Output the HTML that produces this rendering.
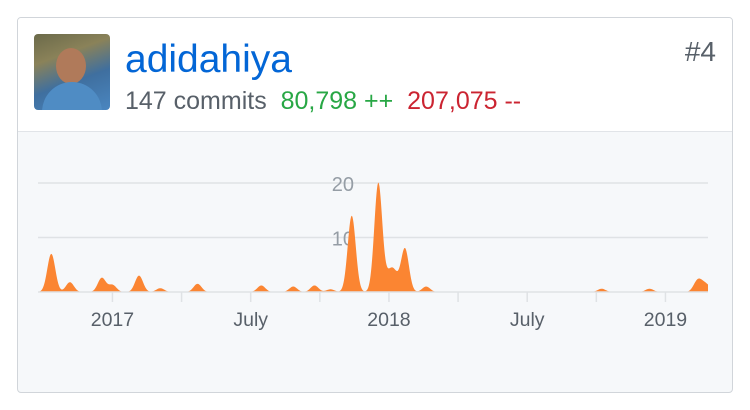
<!DOCTYPE html>
<html><head><meta charset="utf-8"><style>
body{margin:0;background:#fff;width:750px;height:410px;overflow:hidden;font-family:"Liberation Sans",Arial,sans-serif}
#card{position:absolute;left:17px;top:17px;width:714px;height:374px;border:1px solid #d1d5da;border-radius:4px;overflow:hidden;background:#f6f8fa}
#head{position:absolute;left:0;top:0;width:714px;height:113px;background:#fff;border-bottom:1px solid #e1e4e8}
#avatar{position:absolute;left:16px;top:16px;width:76px;height:76px;border-radius:4px;background:linear-gradient(160deg,#6b6a4a 0%,#8a8259 30%,#3f6f9f 60%,#4a86c0 100%);overflow:hidden}
#name{position:absolute;left:107px;top:20px;font-size:39px;color:#0366d6}
#stats{position:absolute;left:107px;top:69px;font-size:25px;color:#586069;white-space:nowrap}
#rank{position:absolute;right:16px;top:18px;font-size:28px;color:#586069}
svg{position:absolute;left:0;top:0}
</style></head><body>
<div id="card">
 <div id="head">
  <div id="avatar">
   <div style="position:absolute;left:22px;top:14px;width:30px;height:36px;border-radius:50%;background:#b07a5a"></div>
   <div style="position:absolute;left:8px;top:48px;width:60px;height:40px;border-radius:30px 30px 0 0;background:#4f8cc4"></div>
  </div>
  <div id="name">adidahiya</div>
  <div id="stats"><span>147 commits</span>&nbsp; <span style="color:#28a745">80,798 ++</span>&nbsp; <span style="color:#cb2431">207,075 --</span></div>
  <div id="rank">#4</div>
 </div>
</div>
<svg id="chart" width="750" height="410"></svg>
<script>
const weekIndex=[2.5,6,12,14,19,23,30,42,48,52,55,59,64,66,67,69,73,106,115,124,125,126];
const weekCommits=[7,1.8,2.6,1.3,3,0.7,1.5,1.2,1,1.2,0.5,14,20,2.5,3,8,1,0.6,0.6,1.9,1,0.9];
const totalWeeks=127;
const yTicks=[10,20];
const xTickLabels=["2017","July","2018","July","2019"];
const xTickWeeks=[14,40,66,92,118];
const minorTickWeeks=[27,53,79,105];

const NS="http://www.w3.org/2000/svg";
const svg=document.getElementById('chart');
const x0=38,x1=708,yBase=292,pxPerUnit=5.45,sigma=4;
const xs=w=>x0+w*(x1-x0)/(totalWeeks-1);
const ys=v=>yBase-v*pxPerUnit;
function mk(t,a){const e=document.createElementNS(NS,t);for(const k in a)e.setAttribute(k,a[k]);svg.appendChild(e);return e;}

yTicks.forEach(v=>{
 const g=mk('line',{x1:x0,x2:x1,y1:ys(v),y2:ys(v),stroke:'#dfe2e5','stroke-width':1.5});
 
 
 const t=mk('text',{x:354,y:ys(v)+8,'text-anchor':'end','font-size':20,fill:'#959da5','font-family':'Liberation Sans, sans-serif'});
 t.textContent=v;
 
 
});
let p=`M${x0},${yBase}`;
for(let x=x0;x<=x1;x+=0.5){
 let v=0;
 weekIndex.forEach((w,i)=>{const dx=(x-xs(w))/sigma;v+=weekCommits[i]*Math.exp(-dx*dx/2);});
 p+=`L${x},${ys(v).toFixed(2)}`;
}
p+=`L${x1},${yBase}Z`;
const area=mk('path',{d:p,fill:'#fb8532'});


const bl=mk('line',{x1:x0,x2:x1,y1:yBase,y2:yBase,stroke:'#dfe2e5','stroke-width':1.5});


xTickWeeks.forEach((w,i)=>{
 const l=mk('line',{x1:xs(w),x2:xs(w),y1:yBase,y2:yBase+10,stroke:'#dfe2e5','stroke-width':1.5});
 
 
 const t=mk('text',{x:xs(w),y:yBase+34,'text-anchor':'middle','font-size':19.5,fill:'#586069','font-family':'Liberation Sans, sans-serif'});
 t.textContent=xTickLabels[i];
 
 
});
minorTickWeeks.forEach(w=>{
 const l=mk('line',{x1:xs(w),x2:xs(w),y1:yBase,y2:yBase+10,stroke:'#dfe2e5','stroke-width':1.5});
 
 
});
</script>
</body></html>
